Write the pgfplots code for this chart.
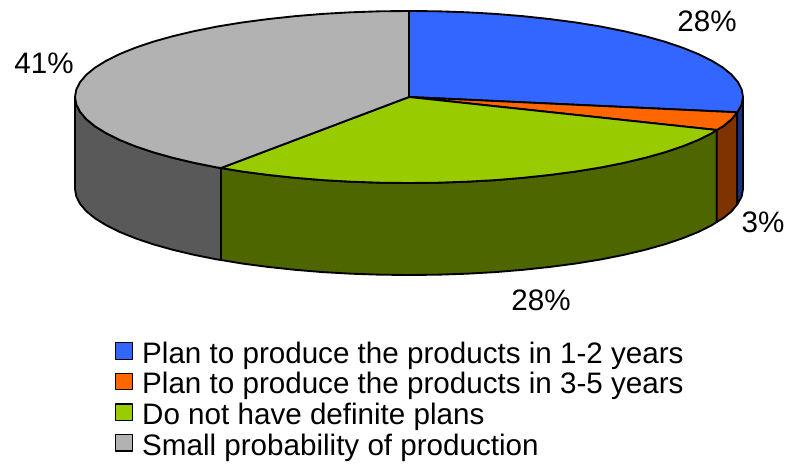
\documentclass[border=0pt]{standalone}
\usepackage{pgfplots}
\pgfplotsset{compat=1.18}
\usepackage{fontspec}
\setmainfont{Liberation Sans}
\definecolor{cblue}{HTML}{3366FF}
\definecolor{corange}{HTML}{FF6600}
\definecolor{cgreen}{HTML}{99CC00}
\definecolor{cgrey}{HTML}{B2B2B2}
\definecolor{dblue}{HTML}{19337F}
\definecolor{dorange}{HTML}{7F3300}
\definecolor{dgreen}{HTML}{4D6600}
\definecolor{dgrey}{HTML}{595959}
\newcommand\lblfont{\fontsize{22.2}{22.2}\selectfont}

\begin{document}
\begin{tikzpicture}
\begin{axis}[
    anchor=south west, at={(0,0)},
    x=0.75pt, y=0.75pt,
    xmin=0, xmax=786, ymin=0, ymax=458,
    y dir=reverse,
    hide axis,
    clip=false,
    every axis plot/.append style={draw=black, line width=1.4pt, line join=round, mark=none},
    legend cell align=left,
    legend image code/.code={\draw[#1, line width=1pt] (0pt,0.6pt) rectangle (12.4pt,13pt);},
    legend style={
        draw=none, fill=none, inner sep=0pt, outer sep=0pt,
        at={(axis cs:115,342)}, anchor=north west,
        font=\lblfont,
        row sep=-1.3pt,
        nodes={inner sep=0pt, outer sep=0pt, text height=13.25pt, text depth=8.25pt},
        /tikz/every odd column/.style={column sep=7pt},
    },
]
% side walls
\addplot[fill=dgrey, forget plot] coordinates {
    (221,168)(217.4,167.5)(194.3,162.9)(172.8,157.8)(153.2,152.3)(135.4,146.3)(119.8,140)
    (106.3,133.3)(95.1,126.4)(86.4,119.3)(80.1,111.9)(76.3,104.5)(75,97)
    (75,189)(76.3,196.5)(80.1,203.9)(86.4,211.3)(95.1,218.4)(106.3,225.3)(119.8,232)
    (135.4,238.3)(153.2,244.3)(172.8,249.8)(194.3,254.9)(217.4,259.5)(221,260)
} --cycle;
\addplot[fill=dgreen, forget plot] coordinates {
    (716.7,130)(711.7,133.3)(698.2,140)(682.6,146.3)(664.8,152.3)(645.2,157.8)(623.7,162.9)
    (600.6,167.5)(576,171.5)(550.1,174.9)(523.2,177.8)(495.4,180.1)(467,181.7)(438.1,182.7)
    (409,183)(379.9,182.7)(351,181.7)(322.6,180.1)(294.8,177.8)(267.9,174.9)(242,171.5)(221,168)
    (221,260)(242,263.5)(267.9,266.9)(294.8,269.8)(322.6,272.1)(351,273.7)(379.9,274.7)
    (409,275)(438.1,274.7)(467,273.7)(495.4,272.1)(523.2,269.8)(550.1,266.9)(576,263.5)
    (600.6,259.5)(623.7,254.9)(645.2,249.8)(664.8,244.3)(682.6,238.3)(698.2,232)(711.7,225.3)(716.7,222)
} --cycle;
\addplot[fill=dorange, forget plot] coordinates {
    (737.3,112.3)(731.6,119.3)(722.9,126.4)(716.7,130)
    (716.7,222)(722.9,218.4)(731.6,211.3)(737.3,204.3)
} --cycle;
\addplot[fill=dblue, forget plot] coordinates {
    (743,97)(741.7,104.5)(737.3,112.3)
    (737.3,204.3)(741.7,196.5)(743,189)
} --cycle;
% top faces
\addplot[fill=cblue] coordinates {
    (409,97)(409,11)(438.1,11.3)(467,12.3)(495.4,13.9)(523.2,16.2)(550.1,19.1)(576,22.5)
    (600.6,26.5)(623.7,31.1)(645.2,36.2)(664.8,41.7)(682.6,47.7)(698.2,54)(711.7,60.7)
    (722.9,67.6)(731.6,74.7)(737.9,82.1)(741.7,89.5)(743,97)(741.7,104.5)(737.3,112.3)
} --cycle;
\addlegendentry{Plan to produce the products in 1-2 years}
\addplot[fill=corange] coordinates {
    (409,97)(737.3,112.3)(731.6,119.3)(722.9,126.4)(716.7,130)
} --cycle;
\addlegendentry{Plan to produce the products in 3-5 years}
\addplot[fill=cgreen] coordinates {
    (409,97)(716.7,130)(711.7,133.3)(698.2,140)(682.6,146.3)(664.8,152.3)(645.2,157.8)(623.7,162.9)
    (600.6,167.5)(576,171.5)(550.1,174.9)(523.2,177.8)(495.4,180.1)(467,181.7)(438.1,182.7)
    (409,183)(379.9,182.7)(351,181.7)(322.6,180.1)(294.8,177.8)(267.9,174.9)(242,171.5)(221,168)
} --cycle;
\addlegendentry{Do not have definite plans}
\addplot[fill=cgrey] coordinates {
    (409,97)(221,168)(217.4,167.5)(194.3,162.9)(172.8,157.8)(153.2,152.3)(135.4,146.3)(119.8,140)
    (106.3,133.3)(95.1,126.4)(86.4,119.3)(80.1,111.9)(76.3,104.5)(75,97)(76.3,89.5)(80.1,82.1)
    (86.4,74.7)(95.1,67.6)(106.3,60.7)(119.8,54)(135.4,47.7)(153.2,41.7)(172.8,36.2)(194.3,31.1)
    (217.4,26.5)(242,22.5)(267.9,19.1)(294.8,16.2)(322.6,13.9)(351,12.3)(379.9,11.3)(409,11)
} --cycle;
\addlegendentry{Small probability of production}
% percentage labels
\node[font=\lblfont, inner sep=0pt] at (axis cs:707,21) {28\%};
\node[font=\lblfont, inner sep=0pt] at (axis cs:44,63) {41\%};
\node[font=\lblfont, inner sep=0pt] at (axis cs:763,222) {3\%};
\node[font=\lblfont, inner sep=0pt] at (axis cs:541,300) {28\%};
\end{axis}
\useasboundingbox (0,0) rectangle (589.5pt,343.5pt);
\end{tikzpicture}
\end{document}
